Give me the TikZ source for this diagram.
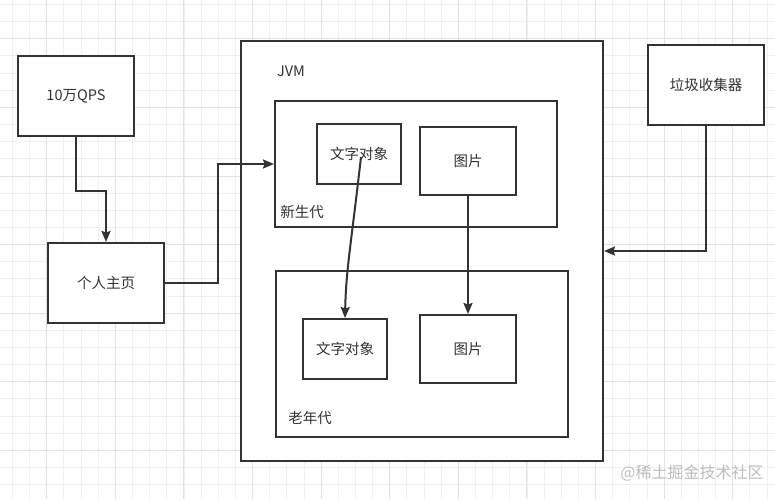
\documentclass[tikz,border=0pt]{standalone}
\usepackage{fontspec}
\setmainfont{Noto Sans CJK SC}
\usetikzlibrary{arrows.meta}

\definecolor{ink}{HTML}{333333}
\definecolor{gridminor}{HTML}{F0F0F0}
\definecolor{gridmajor}{HTML}{E2E2E2}
\definecolor{mark}{HTML}{BDBDBD}

\begin{document}
\begin{tikzpicture}[x=1pt, y=-1pt,
  box/.style={draw=ink, line width=2pt, fill=white, inner sep=0pt,
              text=ink, font=\fontsize{14.5}{16}\selectfont},
  lbl/.style={inner sep=0pt, text=ink, font=\fontsize{14.5}{16}\selectfont},
  arr/.style={-{Stealth[length=11pt, width=9pt, inset=1.5pt]}, draw=ink, line width=2pt}]
\useasboundingbox (0,0) rectangle (775,499);
\fill[white] (0,0) rectangle (775,499);
% background grid
\foreach \i in {0,...,45}
  \draw[gridminor, line width=1pt] (12.5+17.15*\i,0) -- (12.5+17.15*\i,499);
\foreach \i in {0,...,29}
  \draw[gridminor, line width=1pt] (0,4.5+17.15*\i) -- (775,4.5+17.15*\i);
\foreach \i in {0,...,11}
  \draw[gridmajor, line width=1pt] (-21.9+68.6*\i,0) -- (-21.9+68.6*\i,499);
\foreach \i in {0,...,7}
  \draw[gridmajor, line width=1pt] (0,38.9+68.6*\i) -- (775,38.9+68.6*\i);

\node[box, minimum width=116, minimum height=80] (qps) at (76,96) {10万QPS};
\node[box, minimum width=116, minimum height=80] (home) at (106,283) {个人主页};
\node[box, minimum width=362, minimum height=420] (jvm) at (422,251) {};
\node[lbl] (jvmlbl) at (291,71) {JVM};
\node[box, minimum width=282, minimum height=126] (young) at (416,164) {};
\node[lbl] (younglbl) at (302,212) {新生代};
\node[box, minimum width=84, minimum height=60] (ytext) at (359,154) {文字对象};
\node[box, minimum width=96, minimum height=68] (yimg) at (468,161) {图片};
\node[box, minimum width=292, minimum height=166] (old) at (422,354) {};
\node[lbl] (oldlbl) at (310,418) {老年代};
\node[box, minimum width=84, minimum height=60] (otext) at (345,349) {文字对象};
\node[box, minimum width=96, minimum height=68] (oimg) at (468,349) {图片};
\node[box, minimum width=116, minimum height=80] (gc) at (706,85) {垃圾收集器};
\node[lbl, text=mark, font=\fontsize{16}{18}\selectfont] (wm) at (692,473) {@稀土掘金技术社区};

\draw[arr] (qps.south) -- ++(0,54) -| (home.north);
\draw[arr] (home.east) -- (218,283) |- (young.west);
\draw[arr] (gc.south) |- (jvm.east);
\draw[arr] (yimg.south) -- (oimg.north);
\draw[arr] ([xshift=2pt, yshift=-3pt]ytext.center) .. controls (351,245) and (346,270) .. (otext.north);
\end{tikzpicture}
\end{document}
